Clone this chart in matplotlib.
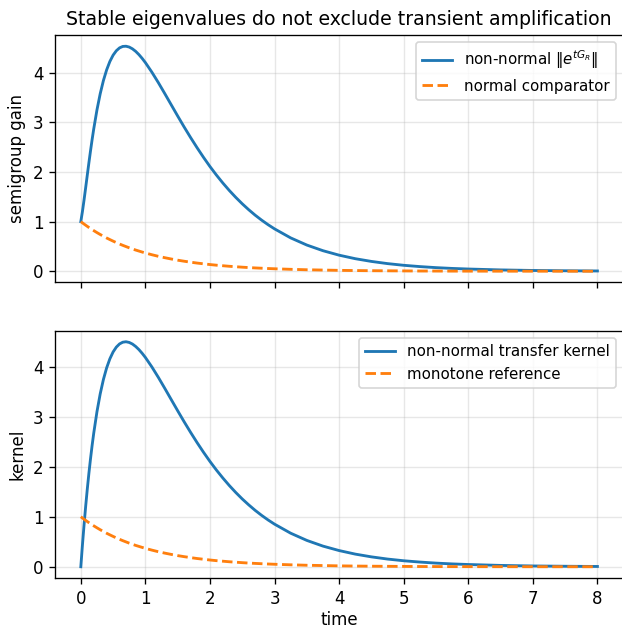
import numpy as np
import matplotlib
matplotlib.use("Agg")
import matplotlib.pyplot as plt

# sampled times
t = [0, 0.025, 0.05, 0.075, 0.1, 0.125, 0.15, 0.175, 0.2, 0.25, 0.3, 0.35,
     0.4, 0.45, 0.5, 0.55, 0.6, 0.65, 0.7, 0.75, 0.8, 0.85, 0.9, 0.95, 1.0,
     1.1, 1.2, 1.3, 1.4, 1.5, 1.6, 1.7, 1.8, 1.9, 2.0, 2.1, 2.2, 2.3, 2.4,
     2.5, 2.6, 2.7, 2.8, 2.9, 3.0, 3.25, 3.5, 3.75, 4.0, 4.25, 4.5, 4.75,
     5.0, 5.25, 5.5, 5.75, 6.0, 6.5, 7.0, 7.5, 8.0]

# top panel: semigroup gain
gain_nonnormal = [1.0, 1.204, 1.436, 1.683, 1.935, 2.184, 2.424, 2.653, 2.867,
                  3.251, 3.575, 3.843, 4.058, 4.227, 4.354, 4.443, 4.501,
                  4.530, 4.534, 4.517, 4.481, 4.430, 4.365, 4.289, 4.204,
                  4.012, 3.802, 3.580, 3.354, 3.128, 2.907, 2.694, 2.490,
                  2.295, 2.110, 1.938, 1.777, 1.627, 1.488, 1.359, 1.240,
                  1.130, 1.030, 0.938, 0.854, 0.672, 0.528, 0.414, 0.324,
                  0.253, 0.198, 0.154, 0.120, 0.094, 0.073, 0.057, 0.045,
                  0.027, 0.016, 0.010, 0.006]
gain_normal = [1.0, 0.975, 0.951, 0.928, 0.905, 0.882, 0.861, 0.839, 0.819,
               0.779, 0.741, 0.705, 0.670, 0.638, 0.607, 0.577, 0.549, 0.522,
               0.497, 0.472, 0.449, 0.427, 0.407, 0.387, 0.368, 0.333, 0.301,
               0.273, 0.247, 0.223, 0.202, 0.183, 0.165, 0.150, 0.135, 0.122,
               0.111, 0.100, 0.091, 0.082, 0.074, 0.067, 0.061, 0.055, 0.050,
               0.039, 0.030, 0.024, 0.018, 0.014, 0.011, 0.009, 0.007, 0.005,
               0.004, 0.003, 0.0025, 0.0015, 0.0009, 0.0006, 0.0003]

# bottom panel: transfer kernel
kernel_nonnormal = [0.0, 0.433, 0.835, 1.207, 1.550, 1.867, 2.158, 2.426,
                    2.671, 3.101, 3.456, 3.746, 3.978, 4.159, 4.296, 4.393,
                    4.457, 4.491, 4.500, 4.486, 4.454, 4.405, 4.343, 4.269,
                    4.186, 3.997, 3.789, 3.569, 3.344, 3.120, 2.900, 2.688,
                    2.484, 2.290, 2.106, 1.934, 1.774, 1.624, 1.485, 1.356,
                    1.238, 1.128, 1.028, 0.936, 0.852, 0.671, 0.527, 0.413,
                    0.324, 0.253, 0.198, 0.154, 0.120, 0.094, 0.073, 0.057,
                    0.045, 0.027, 0.016, 0.010, 0.006]
kernel_reference = gain_normal

fig, (ax1, ax2) = plt.subplots(2, 1, figsize=(622 / 120, 628 / 120), dpi=120,
                               sharex=True)
fig.subplots_adjust(left=0.0884, right=1.002, top=0.9443, bottom=0.0796,
                    hspace=0.194)

ax1.plot(t, gain_nonnormal, color="C0", lw=1.7, label=r"non-normal $\|e^{tG_R}\|$")
ax1.plot(t, gain_normal, color="C1", lw=1.7, ls="--", label="normal comparator")
ax1.set_ylabel("semigroup gain")
ax1.set_title("Stable eigenvalues do not exclude transient amplification",
              fontsize=11.3)
ax1.grid(alpha=0.3)
ax1.legend(loc="upper right", fontsize=9)

ax2.plot(t, kernel_nonnormal, color="C0", lw=1.7, label="non-normal transfer kernel")
ax2.plot(t, kernel_reference, color="C1", lw=1.7, ls="--", label="monotone reference")
ax2.set_ylabel("kernel")
ax2.set_xlabel("time", labelpad=2)
ax2.grid(alpha=0.3)
ax2.legend(loc="upper right", fontsize=9)

fig.savefig("out.png")
